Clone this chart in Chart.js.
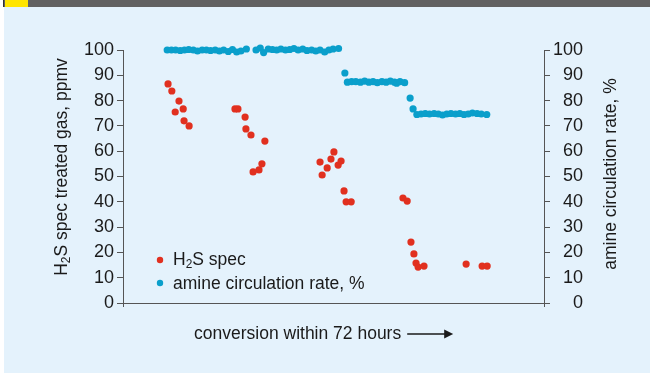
<!DOCTYPE html>
<html lang="en">
<head>
<meta charset="UTF-8">
<title>H2S spec and amine circulation rate</title>
<script src="https://cdn.jsdelivr.net/npm/chart.js"></script>
<style>
  body { margin: 0; background: #fff; }
  #wrap { position: relative; width: 650px; height: 374px; overflow: hidden; }
  #panel { position: absolute; left: 4px; top: 7px; right: 0; bottom: 1px; background: #e4f2fc; }
  #bar { position: absolute; left: 4px; top: 0; right: 0; height: 7px; background: #616161; }
  #tab { position: absolute; left: 5px; top: 0; width: 23px; height: 7px; background: #ffe500; }
  #edge { position: absolute; left: 3px; top: 0; width: 1px; height: 7px; background: #333; }
  canvas { position: absolute; left: 0; top: 0; }
</style>
</head>
<body>
<div id="wrap">
  <div id="panel"></div>
  <div id="bar"></div>
  <div id="tab"></div>
  <div id="edge"></div>
  <canvas id="chart" width="650" height="374"></canvas>
</div>

<script>
// time position along the 72 hour run (arbitrary units, axis 0..100)
const h2sTime = [10.7, 11.6, 13.3, 12.4, 14.3, 14.5, 15.7,
                 26.6, 27.3, 29.0, 29.2, 30.4, 33.7, 33.0, 32.3, 30.9,
                 46.8, 47.3, 48.5, 49.4, 50.1, 51.1, 51.8, 52.5, 53.0, 54.2,
                 66.5, 67.5, 68.4, 69.1, 69.6, 70.1, 71.5, 81.5, 85.3, 86.5];
const h2sSpec = [86.6, 83.8, 79.8, 75.5, 76.7, 72.0, 70.0,
                 76.7, 76.7, 73.5, 68.8, 66.4, 64.0, 55.0, 52.6, 51.8,
                 55.7, 50.6, 53.4, 56.9, 59.7, 54.5, 56.1, 44.3, 40.0, 40.0,
                 41.5, 40.3, 24.1, 19.4, 15.8, 14.2, 14.6, 15.4, 14.6, 14.6];

const amineTime = [10.5, 11.5, 12.5, 13.6, 14.6, 15.6, 16.7, 17.7, 18.8, 19.8,
                   20.8, 21.9, 22.9, 23.9, 25.0, 26.0, 27.0, 28.0, 29.3,
                   31.6, 32.6, 33.4, 34.5, 35.5, 36.5, 37.5, 38.6, 39.6, 40.6,
                   41.6, 42.7, 43.7, 44.8, 45.8, 46.8, 47.9, 48.9, 49.9, 51.2,
                   52.7, 53.3, 54.3, 55.3, 56.4, 57.4, 58.4, 59.4, 60.4, 61.5,
                   62.5, 63.5, 64.5, 65.0, 65.8, 66.9,
                   68.2, 68.9,
                   69.8, 70.8, 71.8, 72.8, 73.9, 74.9, 75.9, 76.9, 77.9, 79.0,
                   80.0, 81.0, 82.0, 83.0, 84.1, 85.1, 86.4];
const aminePct = [100, 100, 100, 99.8, 100, 100.2, 100, 99.6, 100, 100,
                  99.8, 100, 99.6, 100, 99.4, 100.2, 99.2, 99.6, 100.4,
                  100, 100.8, 99.0, 100.4, 100.2, 100, 100.4, 100, 100.2, 100.6,
                  100, 100.4, 99.8, 100, 99.6, 100, 99.2, 100, 100.4, 100.6,
                  90.9, 87.3, 87.5, 87.5, 87.3, 87.7, 87.3, 87.5, 87.1, 87.5,
                  87.3, 87.7, 87.3, 86.9, 87.5, 87.1,
                  81.0, 76.7,
                  74.5, 74.7, 74.9, 74.7, 74.9, 74.7, 74.3, 74.7, 74.9, 74.7,
                  74.9, 74.5, 74.7, 75.1, 74.9, 74.7, 74.5];

const yTicks = [0, 10, 20, 30, 40, 50, 60, 70, 80, 90, 100];

const red = '#e1301f';
const blue = '#0a9fcb';
const ink = '#1a1a1a';
const axisCol = '#555555';
const fontFam = '"Liberation Sans", Arial, sans-serif';

function toPoints(xs, ys) {
  return xs.map((x, i) => ({ x: x, y: ys[i] }));
}

// width of text made of pieces, some of them subscript
function runsWidth(c, runs, size) {
  let w = 0;
  runs.forEach(r => {
    c.font = (r[1] ? size * 0.68 : size) + 'px ' + fontFam;
    w += c.measureText(r[0]).width;
  });
  return w;
}

function drawRuns(c, runs, x, y, size) {
  let cx = x;
  runs.forEach(r => {
    c.font = (r[1] ? size * 0.68 : size) + 'px ' + fontFam;
    c.fillText(r[0], cx, r[1] ? y + size * 0.28 : y);
    cx += c.measureText(r[0]).width;
  });
  return cx - x;
}

const textPlugin = {
  id: 'textPlugin',
  afterDraw(chart) {
    const c = chart.ctx;
    c.save();
    c.fillStyle = ink;
    c.textBaseline = 'middle';
    c.textAlign = 'left';

    // left axis title
    const leftTitle = [['H', 0], ['2', 1], ['S spec treated gas, ppmv', 0]];
    c.save();
    c.translate(62, 167);
    c.rotate(-Math.PI / 2);
    drawRuns(c, leftTitle, -runsWidth(c, leftTitle, 17.5) / 2, 0, 17.5);
    c.restore();

    // right axis title
    c.save();
    c.translate(611, 174);
    c.rotate(-Math.PI / 2);
    c.font = '17.5px ' + fontFam;
    c.textAlign = 'center';
    c.fillText('amine circulation rate, %', 0, 0);
    c.restore();

    // legend
    c.fillStyle = red;
    c.beginPath(); c.arc(160, 260, 3.2, 0, Math.PI * 2); c.fill();
    c.fillStyle = blue;
    c.beginPath(); c.arc(160, 283, 3.2, 0, Math.PI * 2); c.fill();
    c.fillStyle = ink;
    drawRuns(c, [['H', 0], ['2', 1], ['S spec', 0]], 173, 260, 17.5);
    drawRuns(c, [['amine circulation rate, %', 0]], 173, 284, 17.5);

    // x title with arrow
    const w = drawRuns(c, [['conversion within 72 hours', 0]], 194, 334, 17.5);
    const ax = 194 + w + 6;
    c.strokeStyle = ink;
    c.lineWidth = 1.5;
    c.beginPath(); c.moveTo(ax, 334); c.lineTo(ax + 38, 334); c.stroke();
    c.beginPath();
    c.moveTo(ax + 37, 329.5); c.lineTo(ax + 46, 334); c.lineTo(ax + 37, 338.5);
    c.closePath(); c.fill();
    c.restore();
  }
};

function yAxis(pos, width) {
  return {
    type: 'linear',
    position: pos,
    min: 0,
    max: 100,
    afterBuildTicks: s => { s.ticks = yTicks.map(v => ({ value: v })); },
    afterFit: s => { s.width = width; },
    grid: { drawOnChartArea: false, drawTicks: true, tickLength: 6, color: axisCol, lineWidth: 1 },
    border: { display: true, color: axisCol, width: 1 },
    ticks: {
      padding: 3,
      color: ink,
      crossAlign: pos === 'right' ? 'far' : 'near',
      font: { size: 18, family: fontFam }
    }
  };
}

new Chart(document.getElementById('chart'), {
  type: 'scatter',
  data: {
    datasets: [
      {
        label: 'amine circulation rate, %',
        data: toPoints(amineTime, aminePct),
        yAxisID: 'y2',
        backgroundColor: blue,
        borderWidth: 0,
        pointRadius: 3.6,
        clip: false
      },
      {
        label: 'H2S spec',
        data: toPoints(h2sTime, h2sSpec),
        yAxisID: 'y',
        backgroundColor: red,
        borderWidth: 0,
        pointRadius: 3.6,
        clip: false
      }
    ]
  },
  options: {
    responsive: false,
    animation: false,
    layout: { padding: { top: 50, left: 0, right: 67, bottom: 0 } },
    plugins: { legend: { display: false }, tooltip: { enabled: false } },
    scales: {
      x: {
        type: 'linear',
        min: 0,
        max: 100,
        afterBuildTicks: s => { s.ticks = [{ value: 0 }, { value: 100 }]; },
        afterFit: s => { s.height = 71; },
        grid: { drawOnChartArea: false, drawTicks: true, tickLength: 4, color: axisCol },
        border: { display: true, color: axisCol, width: 1 },
        ticks: { display: false }
      },
      y: yAxis('left', 123),
      y2: yAxis('right', 39)
    }
  },
  plugins: [textPlugin]
});
</script>
</body>
</html>
